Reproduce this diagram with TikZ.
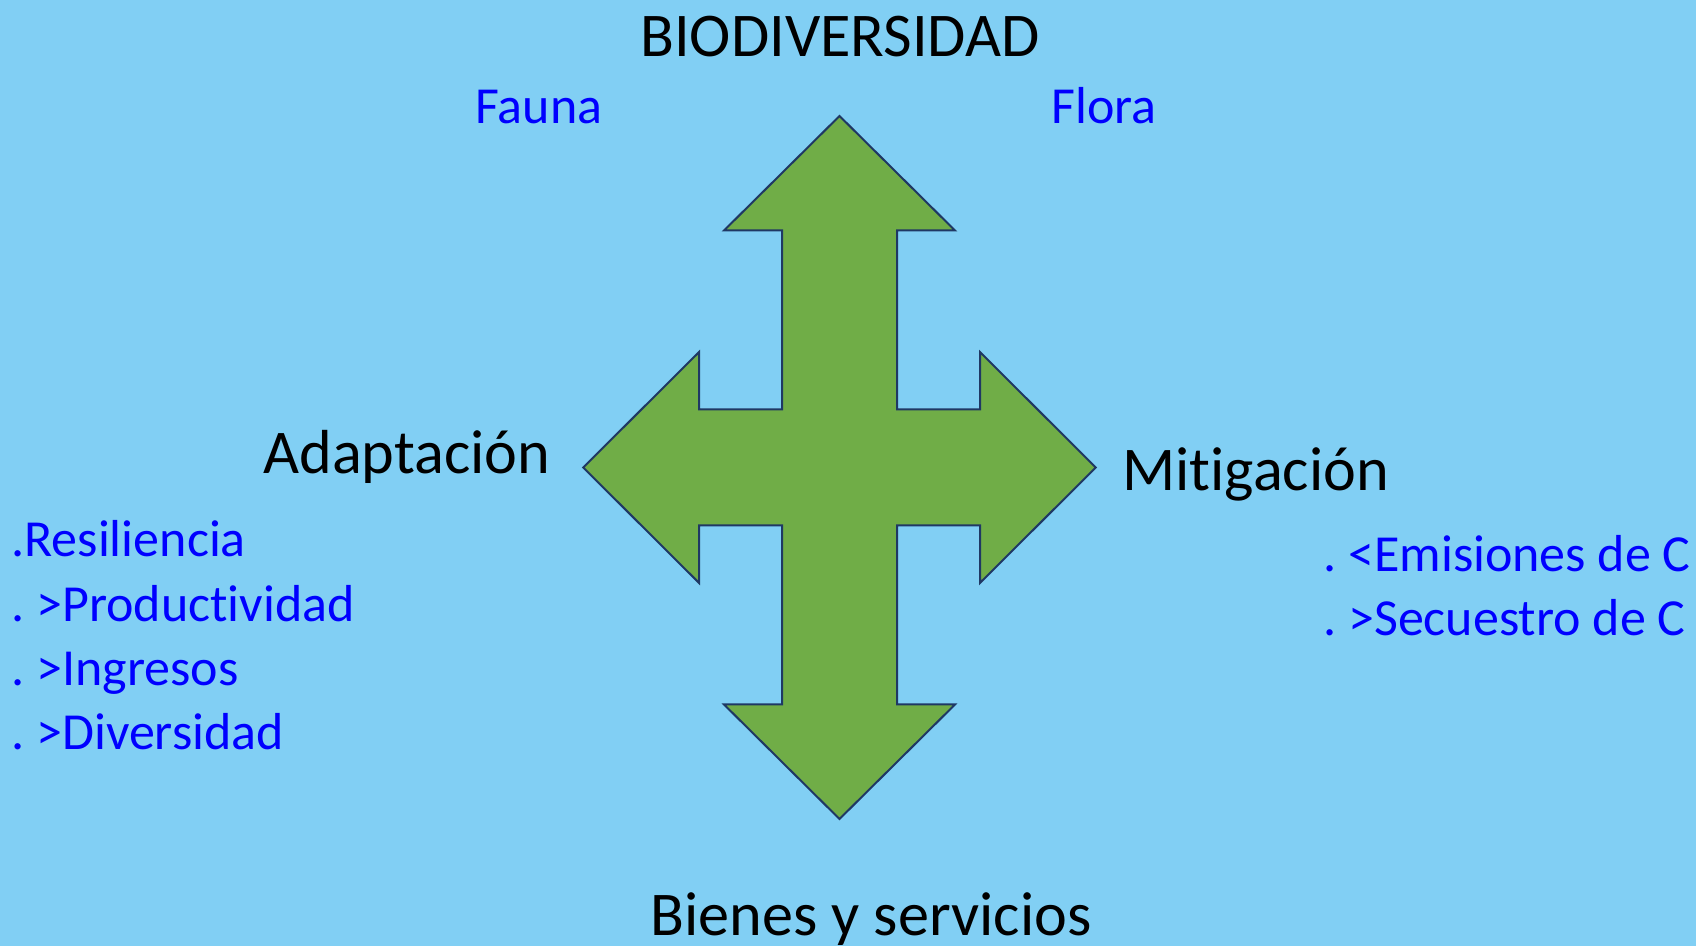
\documentclass[tikz,border=0pt]{standalone}
\usepackage{fontspec}
\setmainfont[Ligatures=NoCommon]{Carlito}
\usepackage{tikz}
\usetikzlibrary{positioning}

\definecolor{fondo}{RGB}{129,207,244}
\definecolor{verde}{RGB}{112,173,71}
\definecolor{borde}{RGB}{31,56,100}
\definecolor{azul}{RGB}{0,0,255}

\tikzset{
  titulo/.style={inner sep=0pt, font=\fontsize{31.1}{37}\selectfont, text=black},
  item/.style={inner sep=0pt, font=\fontsize{26}{32}\selectfont, text=azul},
  flecha/.style={fill=verde, draw=borde, line width=1pt, line join=miter}
}

\frenchspacing
\begin{document}
\begin{tikzpicture}[x=0.5pt,y=0.5pt]

	\fill[fondo] (0,0) rectangle (1696,946);
	\useasboundingbox (0,0) rectangle (1696,946);

	% cruz de flechas
	\begin{scope}[shift={(839.5,478.5)}]
		\draw[flecha] (0,351.5) -- (115.5,237) -- (57.5,237) -- (57.5,58) -- (140.5,58) -- (140.5,115.4)
			-- (256.3,0) -- (140.5,-115.4) -- (140.5,-58) -- (57.5,-58) -- (57.5,-237) -- (115.5,-237)
			-- (0,-351.5) -- (-115.5,-237) -- (-57.5,-237) -- (-57.5,-58) -- (-140.5,-58) -- (-140.5,-115.4)
			-- (-256.3,0) -- (-140.5,115.4) -- (-140.5,58) -- (-57.5,58) -- (-57.5,237) -- (-115.5,237) -- cycle;
	\end{scope}

	\node[titulo, anchor=base] (bio) at (840,889.3) {BIODIVERSIDAD};
	\node[item, anchor=base west] (fauna) at (475,822) {Fauna};
	\node[item, anchor=base west] (flora) at (1051,822) {Flora};

	\node[titulo, anchor=base west] (adap) at (263,472) {Adaptación};
	\node[item, anchor=base west] (resil) at (11,389) {.Resiliencia};
	\node[item, anchor=base west] (prod) at (11,324.5) {. >Productividad};
	\node[item, anchor=base west] (ingr) at (11,260) {. >Ingresos};
	\node[item, anchor=base west] (divers) at (11,196) {. >Diversidad};

	\node[titulo, anchor=base west] (mitig) at (1122,455.3) {Mitigación};
	\node[item, anchor=base west] (emis) at (1323,374.3) {. <Emisiones de C};
	\node[item, anchor=base west] (secu) at (1323,310.5) {. >Secuestro de C};

	\node[titulo, anchor=base] (bienes) at (871,10) {Bienes y servicios};

\end{tikzpicture}
\end{document}
